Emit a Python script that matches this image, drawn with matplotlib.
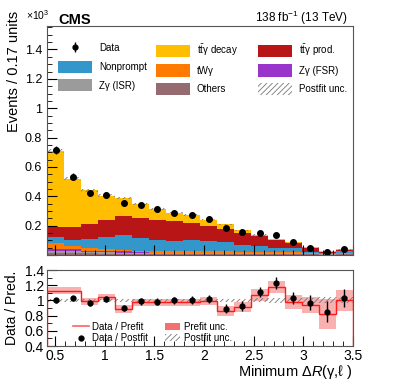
import numpy as np
import matplotlib
matplotlib.use("Agg")
import matplotlib.pyplot as plt
from matplotlib.patches import Patch
from matplotlib.lines import Line2D
from matplotlib.legend import Legend
from matplotlib.ticker import MultipleLocator, FuncFormatter

plt.rcParams['font.family'] = ['Liberation Sans', 'DejaVu Sans']
plt.rcParams['mathtext.fontset'] = 'custom'
plt.rcParams['mathtext.rm'] = 'Liberation Sans'
plt.rcParams['mathtext.it'] = 'Liberation Sans:italic'
plt.rcParams['hatch.linewidth'] = 0.6

# binning: 18 bins in min dR(gamma, lepton)
edges = np.linspace(0.42, 3.5, 19)

# stack components, units of 10^3 events
others = [0.014, 0.013, 0.011, 0.010, 0.010, 0.009, 0.008, 0.008, 0.008, 0.008, 0.008, 0.007, 0.007, 0.007, 0.007, 0.004, 0.003, 0.004]
zg_isr = [0.014, 0.012, 0.009, 0.008, 0.007, 0.006, 0.005, 0.005, 0.005, 0.005, 0.005, 0.004, 0.004, 0.004, 0.004, 0.002, 0.002, 0.002]
zg_fsr = [0.016, 0.013, 0.010, 0.008, 0.007, 0.005, 0.004, 0.004, 0.004, 0.004, 0.004, 0.003, 0.003, 0.003, 0.003, 0.002, 0.002, 0.002]
twg = [0.037, 0.020, 0.017, 0.014, 0.012, 0.009, 0.007, 0.007, 0.007, 0.007, 0.007, 0.006, 0.006, 0.006, 0.006, 0.004, 0.003, 0.004]
nonprompt = [0.042, 0.041, 0.062, 0.080, 0.102, 0.084, 0.080, 0.073, 0.078, 0.073, 0.064, 0.048, 0.038, 0.031, 0.027, 0.010, 0.005, 0.015]
ttg_prod = [0.065, 0.091, 0.100, 0.121, 0.130, 0.137, 0.137, 0.133, 0.116, 0.103, 0.089, 0.080, 0.069, 0.049, 0.034, 0.023, 0.007, 0.007]
ttg_decay = [0.521, 0.330, 0.231, 0.164, 0.122, 0.100, 0.075, 0.059, 0.052, 0.041, 0.032, 0.020, 0.009, 0.009, 0.007, 0.007, 0.005, 0.004]
postfit_unc = [0.012, 0.010, 0.009, 0.008, 0.008, 0.007, 0.007, 0.006, 0.006, 0.005, 0.005, 0.004, 0.004, 0.003, 0.003, 0.002, 0.002, 0.002]

data = [0.714, 0.534, 0.419, 0.410, 0.353, 0.342, 0.314, 0.289, 0.273, 0.248, 0.186, 0.159, 0.152, 0.134, 0.090, 0.049, 0.022, 0.038]
data_err = [0.027, 0.023, 0.020, 0.020, 0.019, 0.018, 0.018, 0.017, 0.017, 0.016, 0.014, 0.013, 0.012, 0.012, 0.009, 0.007, 0.005, 0.006]

# ratio panel
ratio_post = [1.00, 1.027, 0.96, 1.02, 0.90, 0.99, 0.985, 1.00, 1.005, 1.02, 0.89, 0.93, 1.11, 1.23, 1.03, 0.97, 0.85, 1.03]
ratio_post_err = [0.03, 0.035, 0.04, 0.04, 0.045, 0.045, 0.045, 0.05, 0.05, 0.05, 0.06, 0.065, 0.07, 0.08, 0.08, 0.10, 0.14, 0.12]
ratio_pre = [1.13, 1.13, 0.99, 1.045, 0.885, 0.975, 0.975, 0.975, 0.975, 0.99, 0.86, 0.915, 1.075, 1.18, 0.975, 0.94, 0.82, 1.00]
prefit_unc = [0.045, 0.045, 0.045, 0.045, 0.05, 0.05, 0.05, 0.05, 0.05, 0.05, 0.065, 0.065, 0.08, 0.08, 0.09, 0.10, 0.20, 0.14]
postfit_rel = [0.017, 0.018, 0.02, 0.02, 0.02, 0.02, 0.02, 0.021, 0.022, 0.022, 0.024, 0.025, 0.027, 0.028, 0.03, 0.035, 0.04, 0.04]

ttg = r"t$\bar{\rm t}$γ"
labels = ["Others", "Zγ (ISR)", "Zγ (FSR)", "tWγ", "Nonprompt", ttg + " prod.", ttg + " decay"]
colors = ["#956a70", "#9b9b9b", "#9a35cb", "#ff7a00", "#3397cc", "#b81616", "#ffbf00"]
comps = [others, zg_isr, zg_fsr, twg, nonprompt, ttg_prod, ttg_decay]

fig = plt.figure(figsize=(3.93, 3.81), dpi=100)
ax = fig.add_axes([47/393, 1-255/381, 306/393, 229/381])
rax = fig.add_axes([47/393, 1-346/381, 306/393, 76/381])

centers = 0.5 * (edges[1:] + edges[:-1])
base = np.zeros(len(data))
for vals, c in zip(comps, colors):
    top = base + np.array(vals)
    ax.stairs(top, edges, baseline=base, fill=True, color=c, lw=0)
    base = top
total = base
unc = np.array(postfit_unc)
ax.stairs(total + unc, edges, baseline=total - unc, fill=True, facecolor="none",
          edgecolor="#777777", hatch="//////", lw=0)
ax.errorbar(centers, data, yerr=data_err, fmt="o", color="black", ms=4, lw=1, capsize=0)

ax.set_xlim(0.42, 3.5)
ax.set_ylim(0, 1.56)
fmt = FuncFormatter(lambda v, p: "" if abs(v) < 1e-9 else "%g" % round(v, 3))
ax.yaxis.set_major_locator(MultipleLocator(0.2))
ax.yaxis.set_minor_locator(MultipleLocator(0.05))
ax.yaxis.set_major_formatter(fmt)
ax.xaxis.set_major_locator(MultipleLocator(0.5))
ax.xaxis.set_minor_locator(MultipleLocator(0.1))
ax.tick_params(axis="x", labelbottom=False)
for a in (ax, rax):
    a.tick_params(which="both", direction="in", top=False, right=False, labelsize=9)
    a.tick_params(which="major", length=7)
    a.tick_params(which="minor", length=3.5)
    for s in a.spines.values():
        s.set_color("#555555")
ax.set_ylabel("Events / 0.17 units", fontsize=10.5, loc="top")
ax.yaxis.set_label_coords(-0.085, 1.065)

fig.text(26/393, 1-20/381, "×10$^3$", fontsize=7.5)
fig.text(58/393, 1-24/381, "CMS", fontsize=10.5, fontweight="bold")
fig.text(348/393, 1-22/381, "138 fb$^{-1}$ (13 TeV)", fontsize=8.5, ha="right")

# legend: three fixed-width columns like the ROOT layout
h = {l: Patch(facecolor=c, edgecolor="none") for l, c in zip(labels, colors)}
h_data = ax.errorbar([], [], yerr=[], fmt="o", color="black", ms=3.5, lw=1)
h_unc = Patch(facecolor="none", edgecolor="#777777", hatch="//////", lw=0)
cols = [([h_data, h["Nonprompt"], h["Zγ (ISR)"]], ["Data", "Nonprompt", "Zγ (ISR)"]),
        ([h[ttg + " decay"], h["tWγ"], h["Others"]], [ttg + " decay", "tWγ", "Others"]),
        ([h[ttg + " prod."], h["Zγ (FSR)"], h_unc], [ttg + " prod.", "Zγ (FSR)", "Postfit unc."])]
col_x = [58, 156, 258]
for (hh, nn), x0 in zip(cols, col_x):
    leg = Legend(ax, hh, nn, loc="upper left", bbox_to_anchor=((x0 - 47) / 306, 0.93),
                 frameon=False, fontsize=7, handlelength=3.5, handleheight=1.55,
                 labelspacing=0.66, handletextpad=0.7, borderpad=0, borderaxespad=0)
    ax.add_artist(leg)

# ratio panel
pre = np.array(ratio_pre)
pu = np.array(prefit_unc)
rax.stairs(pre + pu, edges, baseline=pre - pu, fill=True, color="#f25050", alpha=0.45, lw=0)
pr = np.array(postfit_rel)
rax.stairs(1 + pr, edges, baseline=1 - pr, fill=True, facecolor="none",
           edgecolor="#777777", hatch="//////", lw=0)
rax.stairs(pre, edges, color="#ff1a1a", lw=1)
rax.errorbar(centers, ratio_post, yerr=ratio_post_err, fmt="o", color="black", ms=3.5, lw=1, capsize=0)
rax.set_xlim(0.42, 3.5)
rax.set_ylim(0.4, 1.4)
rax.yaxis.set_major_locator(MultipleLocator(0.2))
rax.yaxis.set_minor_locator(MultipleLocator(0.1))
rax.xaxis.set_major_locator(MultipleLocator(0.5))
rax.xaxis.set_minor_locator(MultipleLocator(0.1))
gfmt = FuncFormatter(lambda v, p: "%g" % round(v, 3))
rax.yaxis.set_major_formatter(gfmt)
rax.xaxis.set_major_formatter(gfmt)
rax.tick_params(labelsize=10, pad=2)
rax.set_ylabel("Data / Pred.", fontsize=10)
rax.set_xlabel("Minimum Δ$R$(γ,ℓ )", fontsize=10.5, ha="right")
rax.xaxis.set_label_coords(1.0, -0.23)

rh = [Line2D([], [], color="#ff6060", lw=1.2),
      Line2D([], [], marker="o", color="black", ls="none", ms=3.5),
      Patch(facecolor="#f47070", edgecolor="none"),
      Patch(facecolor="none", edgecolor="#777777", hatch="//////", lw=0)]
rn = ["Data / Prefit", "Data / Postfit", "Prefit unc.", "Postfit unc."]
rax.legend(rh, rn, ncol=2, loc="upper left", bbox_to_anchor=(0.085, 0.32), frameon=False,
           fontsize=7, handlelength=1.6, handleheight=0.75, columnspacing=1.7,
           labelspacing=0.15, handletextpad=0.4, borderpad=0, borderaxespad=0)

fig.savefig("out.png", dpi=100)
